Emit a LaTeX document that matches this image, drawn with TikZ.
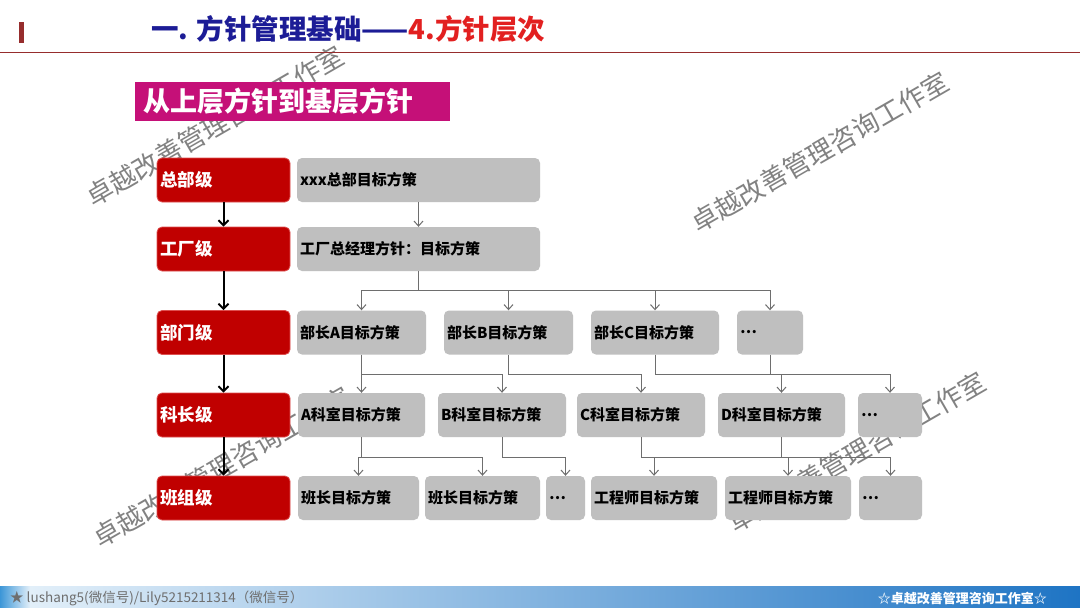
\documentclass[tikz,border=0pt]{standalone}
\usepackage{fontspec}
\setmainfont{Noto Sans CJK SC}
\usetikzlibrary{arrows.meta}
\definecolor{titleblue}{RGB}{28,28,150}
\definecolor{titlered}{RGB}{226,32,32}
\definecolor{rulered}{RGB}{150,45,45}
\definecolor{magbox}{RGB}{197,16,120}
\definecolor{redbox}{RGB}{192,0,0}
\definecolor{redborder}{RGB}{222,80,80}
\definecolor{boxgray}{RGB}{191,191,191}
\definecolor{linegray}{RGB}{110,110,110}
\definecolor{wmgray}{RGB}{130,130,130}
\definecolor{barlight}{RGB}{226,239,249}
\definecolor{barmid}{RGB}{165,202,236}
\definecolor{barblue}{RGB}{30,116,196}
\definecolor{barleft}{RGB}{60,150,215}
\definecolor{footgray}{RGB}{110,110,110}
\begin{document}
\begin{tikzpicture}[x=1pt,y=-1pt,
  rbox/.style={fill=redbox, draw=redborder, line width=0.8pt, rounded corners=5pt, minimum height=44pt, text width=127pt, inner xsep=3pt, inner ysep=0pt, align=left, text=white, font=\fontsize{17.5}{20}\selectfont\bfseries},
  gbox/.style={fill=boxgray, rounded corners=5pt, minimum height=44pt, text width=#1, inner xsep=3pt, inner ysep=0pt, align=left, text=black, font=\fontsize{15}{18}\selectfont\bfseries},
  gline/.style={draw=linegray, line width=1pt},
  garrow/.style={gline, -{Straight Barb[length=5pt,width=9pt,line width=1pt]}},
  barrow/.style={draw=black, line width=2pt, -{Straight Barb[length=5pt,width=10pt]}},
  wm/.style={rotate=30, text=wmgray, font=\fontsize{26.5}{30}\selectfont, inner sep=0pt},
]
\useasboundingbox (0,0) rectangle (1080,608);
\fill[white] (0,0) rectangle (1080,608);

% watermarks
\node[wm] (wm1) at (215,126) {卓越改善管理咨询工作室};
\node[wm] (wm2) at (820,152) {卓越改善管理咨询工作室};
\node[wm] (wm3) at (222,467) {卓越改善管理咨询工作室};
\node[wm] (wm4) at (857,452) {卓越改善管理咨询工作室};

% header
\fill[rulered] (19,22) rectangle (24,43);
\draw[rulered, line width=1pt] (0,52) -- (1080,52);
\node[anchor=west, inner sep=0pt, font=\fontsize{27.5}{30}\selectfont\bfseries] (title) at (151,29)
  {\textcolor{titleblue}{一. 方针管理基础——}\textcolor{titlered}{4.方针层次}};
\node[fill=magbox, minimum height=39pt, text width=299pt, inner xsep=8pt, inner ysep=0pt, align=left, text=white,
  font=\fontsize{27}{30}\selectfont\bfseries] (sub) at (292.5,101.5) {从上层方针到基层方针};

% level boxes
\node[rbox] (r1) at (223.5,180) {总部级};
\node[rbox] (r2) at (223.5,249) {工厂级};
\node[rbox] (r3) at (223.5,332.5) {部门级};
\node[rbox] (r4) at (223.5,415) {科长级};
\node[rbox] (r5) at (223.5,498) {班组级};
\draw[barrow] (r1.south) -- (r2.north);
\draw[barrow] (r2.south) -- (r3.north);
\draw[barrow] (r3.south) -- (r4.north);
\draw[barrow] (r4.south) -- (r5.north);

% gray boxes
\node[gbox=237pt] (g1) at (418.5,180) {xxx总部目标方策};
\node[gbox=237pt] (g2) at (418.5,249) {工厂总经理方针：目标方策};

\node[gbox=123pt] (g3a) at (361.5,332.5) {部长A目标方策};
\node[gbox=123pt] (g3b) at (508.5,332.5) {部长B目标方策};
\node[gbox=122pt] (g3c) at (655,332.5) {部长C目标方策};
\node[gbox=60pt]  (g3d) at (770,332.5) {…};

\node[gbox=121pt] (g4a) at (361.5,415) {A科室目标方策};
\node[gbox=122pt] (g4b) at (502,415) {B科室目标方策};
\node[gbox=122pt] (g4c) at (641,415) {C科室目标方策};
\node[gbox=121pt] (g4d) at (781.5,415) {D科室目标方策};
\node[gbox=58pt]  (g4e) at (890,415) {…};

\node[gbox=115pt] (g5a) at (358.5,498) {班长目标方策};
\node[gbox=109pt] (g5b) at (482.5,498) {班长目标方策};
\node[gbox=33pt]  (g5c) at (565.5,498) {…};
\node[gbox=120pt] (g5d) at (654,498) {工程师目标方策};
\node[gbox=120pt] (g5e) at (788,498) {工程师目标方策};
\node[gbox=57pt]  (g5f) at (890.5,498) {…};

% connectors
\coordinate (bus2) at (0,290);
\coordinate (bus3) at (0,374);
\coordinate (bus4) at (0,457);
\draw[garrow] (g1.south) -- (g2.north);
\draw[gline] (g2.south) -- (g2.south |- bus2);
\draw[garrow] (g2.south |- bus2) -| (g3a.north);
\draw[garrow] (g2.south |- bus2) -| (g3b.north);
\draw[garrow] (g2.south |- bus2) -| (g3c.north);
\draw[garrow] (g2.south |- bus2) -| (g3d.north);

\draw[garrow] (g3a.south) -- (g4a.north);
\draw[garrow] (g3a.south) -- (g3a.south |- bus3) -| (g4b.north);
\draw[garrow] (g3b.south) -- (g3b.south |- bus3) -| (g4c.north);
\draw[garrow] (g3c.south) -- (g3c.south |- bus3) -| (g4d.north);
\draw[garrow] (g3c.south) -- (g3c.south |- bus3) -| (g4e.north);
\draw[gline] (g3d.south) -- (g3d.south |- bus3);

\draw[garrow] (g4a.south) -- (g4a.south |- bus4) -| (g5a.north);
\draw[garrow] (g4a.south) -- (g4a.south |- bus4) -| (g5b.north);
\draw[garrow] (g4b.south) -- (g4b.south |- bus4) -| (g5c.north);
\draw[garrow] (g4c.south) -- (g4c.south |- bus4) -| (g5d.north);
\draw[garrow] (g4c.south) -- (g4c.south |- bus4) -| (g5e.north);
\draw[garrow] (g4c.south) -- (g4c.south |- bus4) -| (g5f.north);
\draw[gline] (g4d.south) -- (g4d.south |- bus4);

% footer
\shade[left color=barleft, right color=barlight] (0,586) rectangle (30,608);
\shade[left color=barlight, middle color=barmid, right color=barblue] (30,586) rectangle (1080,608);
\node[anchor=west, text=footgray, font=\fontsize{13.5}{15}\selectfont, inner sep=0pt] (foot1) at (10,598)
  {★ lushang5(微信号)/Lily5215211314（微信号）};
\node[anchor=east, text=white, font=\fontsize{13}{15}\selectfont\bfseries, inner sep=0pt] (foot2) at (1047,598)
  {☆卓越改善管理咨询工作室☆};
\end{tikzpicture}
\end{document}
